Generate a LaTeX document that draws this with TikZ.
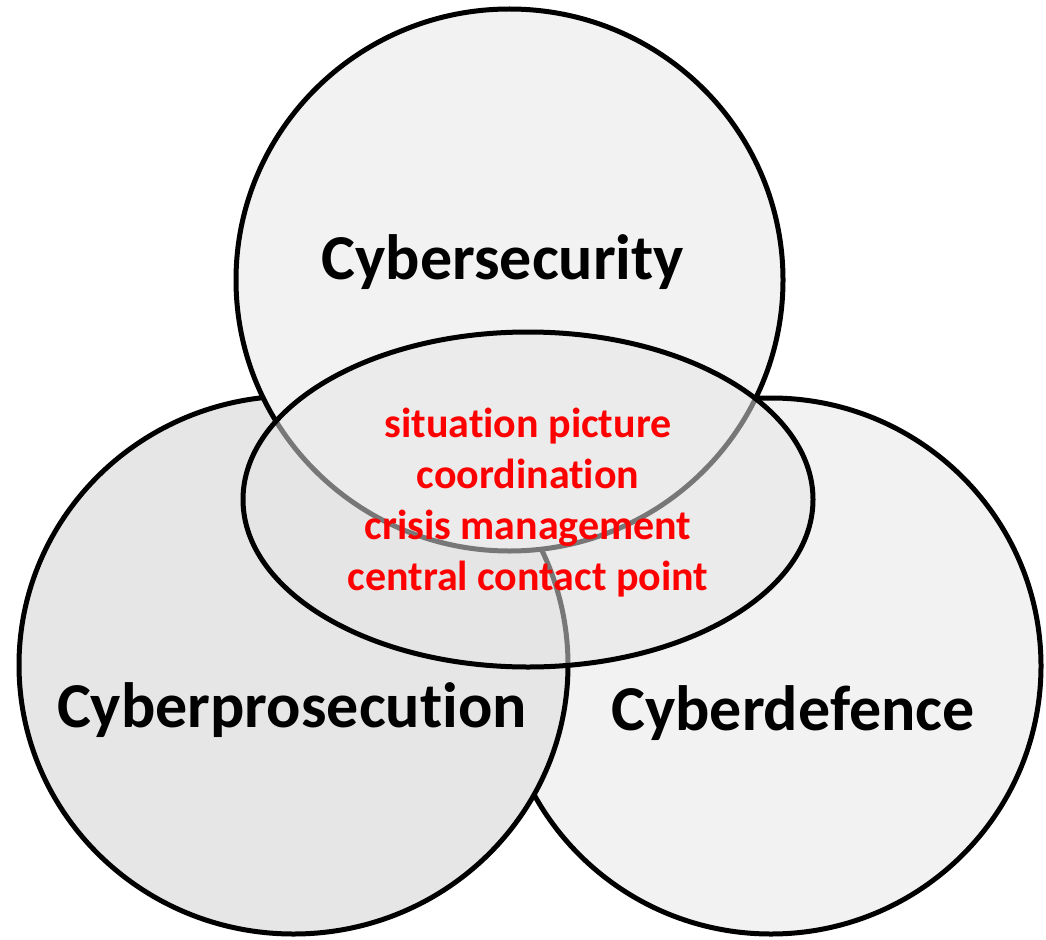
\documentclass[tikz,border=0pt]{standalone}
\usepackage{fontspec}
\setmainfont{Carlito}[Ligatures=NoCommon]
\usetikzlibrary{shapes.geometric, positioning}
\definecolor{lightgrey}{RGB}{242,242,242}
\definecolor{midgrey}{RGB}{230,230,230}
\definecolor{overlapgrey}{RGB}{229,229,229}

\begin{document}
\begin{tikzpicture}[x=1pt, y=-1pt]
        \tikzstyle{ring} = [ellipse, draw=black, line width=5pt, inner sep=0pt]
        \tikzstyle{area} = [font=\fontsize{64}{70}\selectfont\bfseries, text=black]
        \tikzstyle{task} = [font=\fontsize{42}{51}\selectfont\bfseries, text=red, align=center]

        \useasboundingbox (0,0) rectangle (1046,939);

        % the three fields
        \node[ring, fill=lightgrey, minimum width=540pt, minimum height=536pt] (defence) at (771,666){};
        \node[ring, fill=midgrey, minimum width=549pt, minimum height=538pt] (prosecution) at (293.5,665){};
        \node[ring, fill=lightgrey, minimum width=547pt, minimum height=542pt] (security) at (509.5,280){};

        % common core
        \node[ring, fill=overlapgrey, fill opacity=0.52,
              minimum width=570pt, minimum height=335pt] (core) at (528,499.5){};

        \node[area] (securitylabel) at (503,262){Cybersecurity};
        \node[area] (prosecutionlabel) at (292,710){Cyberprosecution};
        \node[area] (defencelabel) at (793,713){Cyberdefence};

        \node[task] (tasks) at (528,503){situation picture\\coordination\\crisis management\\central contact point};

    \end{tikzpicture}
\end{document}
